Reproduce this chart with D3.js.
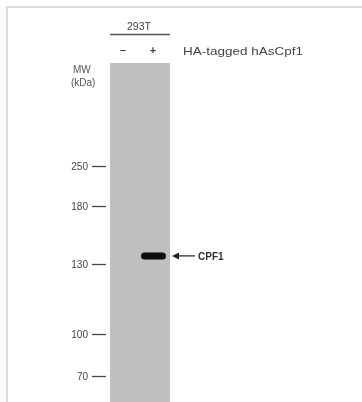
<!DOCTYPE html>
<html><head><meta charset="utf-8">
<script src="https://cdn.jsdelivr.net/npm/d3@7"></script>
<style>body{margin:0;background:#fff;}svg{display:block;font-family:"Liberation Sans",Arial,sans-serif;}</style>
</head><body>
<script>
const cellLine = "293T";
const lanes = ["–", "+"];
const treatmentLabel = "HA-tagged hAsCpf1";
const markers = [250, 180, 130, 100, 70];
const markerLabels = ["250", "180", "130", "100", "70"];
const bandLane = ["+"];
const bandMW = [137];
const bandLabel = ["CPF1"];

const W = 362, H = 402;
const svg = d3.select("body").append("svg").attr("width", W).attr("height", H);
const defs = svg.append("defs");
defs.append("filter").attr("id","blur").append("feGaussianBlur").attr("stdDeviation",0.6);
defs.append("filter").attr("id","soft").append("feGaussianBlur").attr("stdDeviation",0.35);

// frame
svg.append("path").attr("d","M7,402 V7 H362").attr("fill","none").attr("stroke","#dcdcdc").attr("stroke-width",2);

const y = d3.scaleLinear().domain(markers).range([166,206,264,334,376]);
const x = d3.scalePoint().domain(lanes).range([123,153]);
const laneLeft = 110, laneRight = 170, laneTop = 63;

const g = svg.append("g").attr("filter","url(#soft)");
// gel
g.append("rect").attr("x",laneLeft).attr("y",laneTop).attr("width",laneRight-laneLeft).attr("height",H-laneTop).attr("fill","#bfbfbf");

// header
g.append("text").attr("x",(laneLeft+laneRight)/2 - 1).attr("y",30).attr("text-anchor","middle").attr("font-size",11).attr("fill","#444")
  .attr("textLength",24).attr("lengthAdjust","spacingAndGlyphs").text(cellLine);
g.append("line").attr("x1",laneLeft).attr("x2",laneRight).attr("y1",34.5).attr("y2",34.5).attr("stroke","#555").attr("stroke-width",1.3);
g.selectAll(".lane").data(lanes).enter().append("text")
  .attr("x",d=>x(d)).attr("y",53.5).attr("text-anchor","middle").attr("font-size",11).attr("font-weight","bold").attr("fill","#444").text(d=>d);
g.append("text").attr("x",183).attr("y",54.5).attr("font-size",11.5).attr("fill","#444")
  .attr("textLength",120).attr("lengthAdjust","spacingAndGlyphs").text(treatmentLabel);

g.append("text").attr("x",73).attr("y",73).attr("font-size",10).attr("fill","#555").text("MW");
g.append("text").attr("x",71).attr("y",86).attr("font-size",10).attr("fill","#555").text("(kDa)");

// markers
const axis = d3.axisLeft(y).tickValues(markers).tickFormat((d,i)=>markerLabels[i]).tickSize(14).tickPadding(4);
const ax = g.append("g").attr("transform","translate(106,0)").call(axis);
ax.select(".domain").remove();
ax.selectAll(".tick line").attr("stroke","#444").attr("stroke-width",1.3);
ax.selectAll(".tick text").attr("font-size",10).attr("fill","#444").attr("font-family","Liberation Sans, Arial, sans-serif");

// bands
svg.selectAll(".band").data(bandMW).enter().append("rect")
  .attr("x",(d,i)=>x(bandLane[i])-12).attr("y",d=>y(d)-3.5).attr("width",25).attr("height",7).attr("rx",3.5)
  .attr("fill","#0a0a0a").attr("filter","url(#blur)");

// arrow + label
bandMW.forEach((d,i)=>{
  const yy = y(d);
  g.append("line").attr("x1",175).attr("x2",195).attr("y1",yy).attr("y2",yy).attr("stroke","#333").attr("stroke-width",1.3);
  g.append("path").attr("d",`M172,${yy} L179,${yy-3.5} L179,${yy+3.5} Z`).attr("fill","#222");
  g.append("text").attr("x",198).attr("y",yy+4).attr("font-size",10).attr("font-weight","bold").attr("fill","#333").text(bandLabel[i]);
});
</script>
</body></html>
